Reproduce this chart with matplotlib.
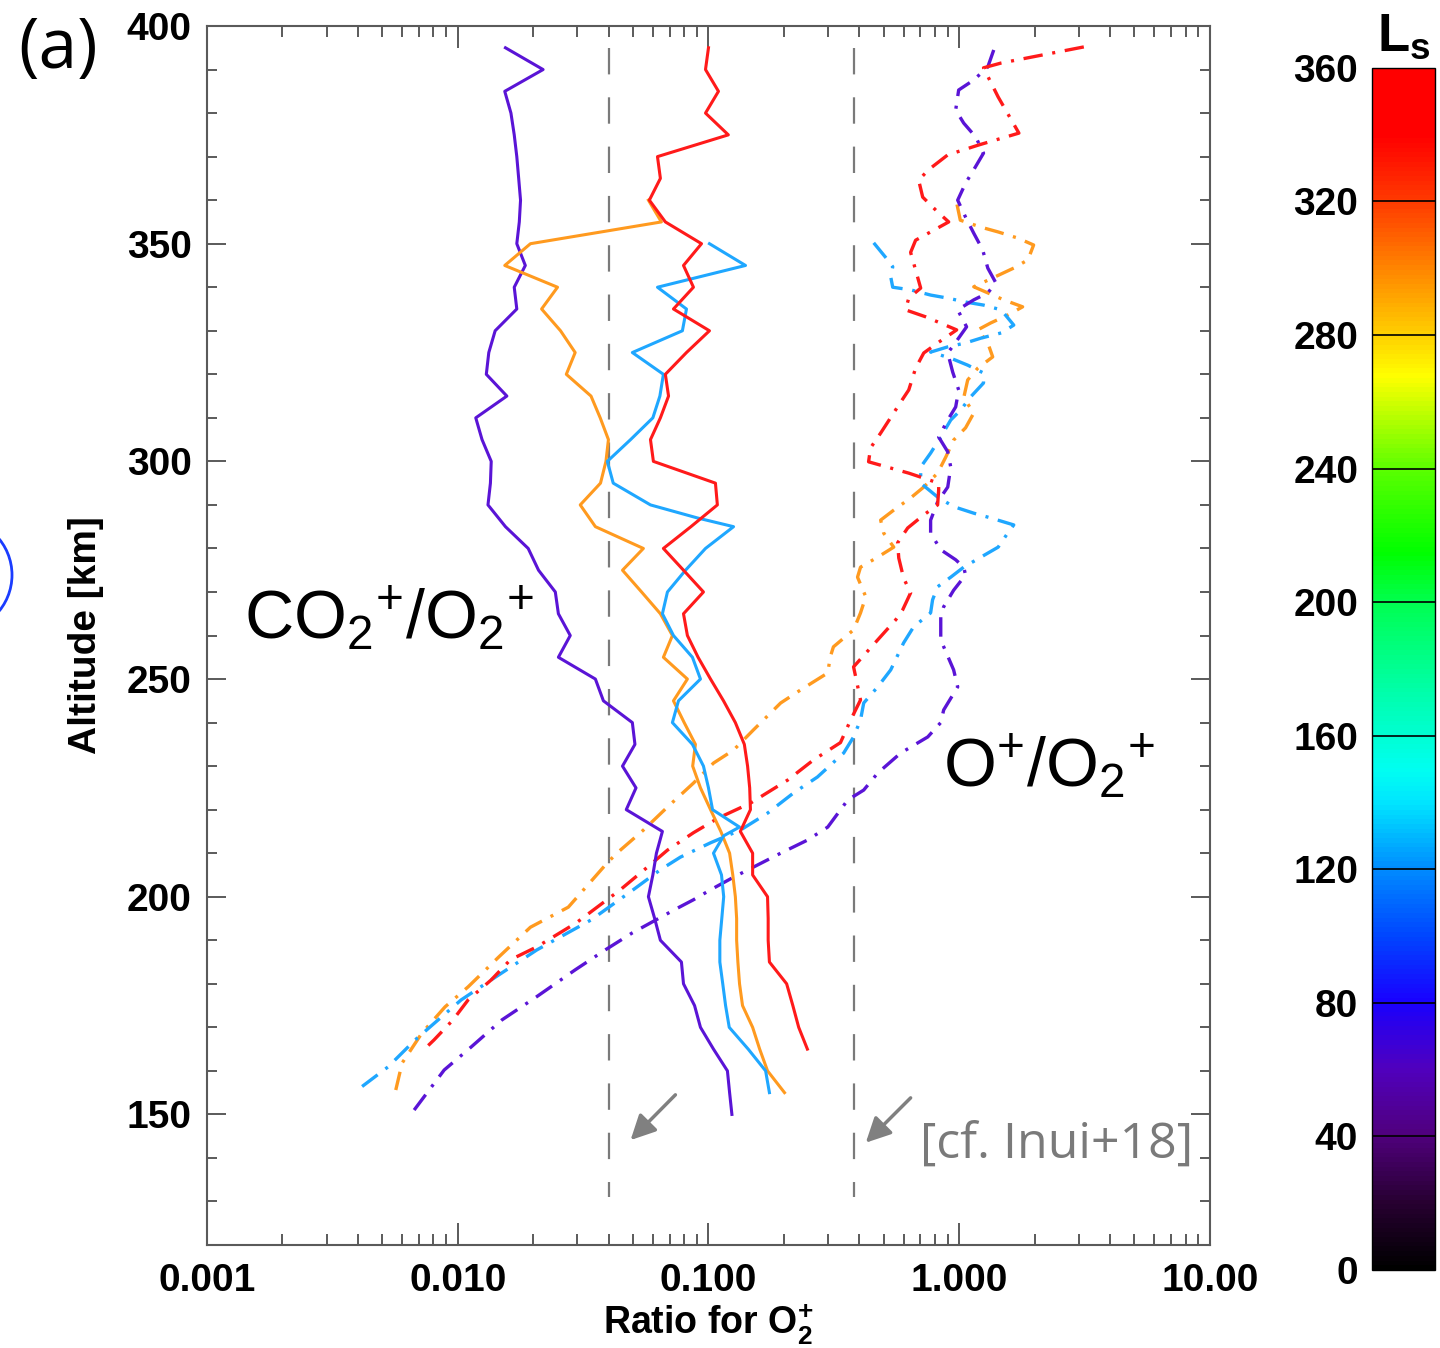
# -*- coding: utf-8 -*-

import matplotlib
matplotlib.use('Agg')
import matplotlib.pyplot as plt
import numpy as np
from matplotlib.colors import LinearSegmentedColormap, Normalize
from matplotlib.cm import ScalarMappable
from matplotlib.ticker import LogLocator, NullFormatter
from matplotlib.patches import Ellipse

plt.rcParams['font.family'] = ['Liberation Sans', 'DejaVu Sans']
plt.rcParams['mathtext.fontset'] = 'custom'
plt.rcParams['mathtext.rm'] = 'Liberation Sans'
plt.rcParams['mathtext.bf'] = 'Liberation Sans:bold'
plt.rcParams['mathtext.it'] = 'Liberation Sans:italic'
plt.rcParams['lines.scale_dashes'] = False

# ---- CO2+/O2+ profiles (solid) ----
alt_co2_purple = [395, 390, 385, 380, 375, 370, 365, 360, 355, 350, 345, 340, 335, 330, 325,
                  320, 315, 310, 305, 300, 295, 290, 285, 280, 275, 270, 265, 260, 255, 250,
                  245, 240, 235, 230, 225, 220, 215, 210, 205, 200, 195, 190, 185, 180, 175,
                  170, 165, 160, 155, 150]
co2_purple = [0.0155, 0.0219, 0.0154, 0.0163, 0.0168, 0.0172, 0.0175, 0.0178, 0.0176, 0.0172,
              0.0186, 0.0168, 0.0172, 0.0141, 0.0133, 0.0130, 0.0157, 0.0118, 0.0125, 0.0136,
              0.0135, 0.0132, 0.0155, 0.0191, 0.0210, 0.0245, 0.0252, 0.0281, 0.0252, 0.0354,
              0.0381, 0.0497, 0.0509, 0.0454, 0.0514, 0.0470, 0.0655, 0.0620, 0.0600, 0.0576,
              0.0610, 0.0643, 0.0780, 0.0795, 0.0880, 0.0929, 0.1047, 0.119, 0.1214, 0.124]

alt_co2_orange = [360, 355, 350, 345, 340, 335, 330, 325, 320, 315, 310, 305, 300, 295, 290,
                  285, 280, 275, 270, 265, 260, 255, 250, 245, 240, 235, 230, 225, 220, 215,
                  210, 205, 200, 195, 190, 185, 180, 175, 170, 165, 160, 155]
co2_orange = [0.0576, 0.0649, 0.0195, 0.0154, 0.0250, 0.0216, 0.0257, 0.0294, 0.0271, 0.0340,
              0.0370, 0.0399, 0.0390, 0.0371, 0.0308, 0.0354, 0.0550, 0.0454, 0.0541, 0.0643,
              0.0718, 0.0661, 0.0824, 0.0725, 0.0800, 0.0887, 0.0865, 0.0929, 0.1019, 0.1120,
              0.1214, 0.125, 0.128, 0.1295, 0.1295, 0.131, 0.133, 0.1367, 0.150, 0.160,
              0.172, 0.201]

alt_co2_blue = [350, 345, 340, 335, 330, 325, 320, 315, 310, 305, 300, 295, 290, 287, 285,
                280, 275, 270, 265, 260, 255, 250, 245, 240, 235, 230, 225, 220, 216, 214,
                210, 205, 200, 195, 190, 185, 180, 175, 170, 165, 160, 155]
co2_blue = [0.1009, 0.1405, 0.0626, 0.0817, 0.0787, 0.0497, 0.0661, 0.0640, 0.0600, 0.0489,
            0.0395, 0.0417, 0.0587, 0.0904, 0.1259, 0.0973, 0.0810, 0.0686, 0.0655, 0.0725,
            0.0863, 0.0929, 0.0759, 0.0718, 0.0863, 0.0955, 0.1000, 0.1038, 0.133, 0.115,
            0.1047, 0.1127, 0.115, 0.113, 0.111, 0.111, 0.114, 0.117, 0.121, 0.144,
            0.169, 0.175]

alt_co2_red = [395, 390, 385, 380, 375, 370, 365, 360, 355, 350, 345, 340, 335, 330, 325,
               320, 315, 310, 305, 300, 295, 290, 285, 280, 275, 270, 265, 260, 255, 250,
               245, 240, 235, 230, 225, 220, 215, 210, 205, 200, 195, 190, 185, 180, 175,
               170, 165]
co2_red = [0.100, 0.0973, 0.1096, 0.0973, 0.120, 0.0626, 0.0643, 0.0581, 0.0673, 0.0938,
           0.0795, 0.0871, 0.0725, 0.1009, 0.0817, 0.0673, 0.0693, 0.0643, 0.0587, 0.0603,
           0.1066, 0.1085, 0.0851, 0.0661, 0.0795, 0.0955, 0.0795, 0.0824, 0.0909, 0.1019,
           0.1148, 0.128, 0.139, 0.1432, 0.146, 0.147, 0.134, 0.150, 0.150, 0.172,
           0.173, 0.173, 0.175, 0.205, 0.217, 0.229, 0.248]

# ---- O+/O2+ profiles (dash-dot) ----
alt_o_purple = [394.5, 390.6, 387.6, 385.3, 380.7, 377.7, 374.5, 370.8, 367, 363.9, 360, 356.1,
                352.4, 348.6, 344.4, 341, 338.7, 337.1, 334.8, 330.9, 326.7, 324.9, 320.5,
                316.4, 312.5, 309.5, 305.6, 302.2, 298.7, 294.1, 290.7, 286.5, 283.5, 279.7,
                277.4, 275.7, 273.9, 270.4, 266.6, 264.3, 259, 252.1, 248.2, 242.9, 240,
                236.7, 233, 228.4, 224.5, 222.2, 216, 213, 210, 206.8, 204.5, 201.6, 199.3,
                197, 191.7, 187.8, 183.2, 177, 171.7, 165.5, 160.2, 151]
o_purple = [1.373, 1.30, 1.143, 0.995, 0.968, 1.042, 1.164, 1.25, 1.143, 1.06, 0.986, 1.06,
            1.143, 1.24, 1.30, 1.40, 1.30, 1.143, 0.986, 1.07, 0.95, 0.90, 0.942, 0.995, 0.968,
            0.90, 0.828, 0.90, 0.925, 0.90, 0.82, 0.769, 0.769, 0.844, 0.968, 1.042, 1.06,
            0.95, 0.867, 0.844, 0.844, 0.95, 0.986, 0.867, 0.844, 0.749, 0.584, 0.473, 0.416,
            0.359, 0.299, 0.248, 0.194, 0.151, 0.126, 0.102, 0.0871, 0.0731, 0.0497, 0.0388,
            0.0294, 0.0206, 0.0150, 0.01132, 0.00883, 0.0067]

alt_o_orange = [359, 355.4, 353.8, 352.7, 351.3, 349.7, 346.3, 344.4, 340.1, 338.7, 337.1, 335.5,
                333.6, 331.8, 330.2, 327.2, 324, 321.4, 318.7, 314.6, 311.1, 307.7, 304.9,
                301, 297.3, 294.1, 291.6, 288.8, 286.5, 283.5, 280.3, 278, 275.7, 273.4,
                268.9, 265.2, 261.3, 257.4, 255.1, 251.4, 247.5, 244.5, 238.3, 233.7, 230.7,
                226.1, 220.6, 215.3, 210.1, 207.8, 197.6, 193, 186.2, 179.3, 174.7, 168.7,
                161.8, 155.6]
o_orange = [0.98, 1.01, 1.22, 1.43, 1.71, 1.98, 1.88, 1.65, 1.143, 1.30, 1.505, 1.79, 1.56,
            1.336, 1.185, 1.30, 1.36, 1.185, 1.081, 1.042, 1.143, 1.06, 0.95, 0.884, 0.82,
            0.722, 0.640, 0.548, 0.486, 0.50, 0.548, 0.473, 0.404, 0.393, 0.424, 0.404, 0.379,
            0.315, 0.306, 0.299, 0.233, 0.194, 0.151, 0.126, 0.1047, 0.0871, 0.0686, 0.055,
            0.0433, 0.0395, 0.0276, 0.0195, 0.0146, 0.0110, 0.0089, 0.0072, 0.0060, 0.00566]

alt_o_blue = [350.2, 346.3, 344.7, 342.4, 340, 339.4, 338.2, 337.5, 336.6, 335.9, 334.8, 331.3,
              329.5, 328.3, 327.2, 326.3, 325.1, 323.7, 322.1, 320.3, 318, 314.8, 311.8, 309.5,
              305.6, 301.9, 298.7, 295, 291.8, 289.6, 288.1, 287, 285.4, 283.5, 280.3, 278,
              275.7, 273.4, 271.2, 268.2, 265.2, 262, 258.3, 252.1, 248.2, 244.5, 240.6,
              236.7, 233, 227.5, 223.8, 219.2, 215.3, 212.4, 209.1, 206.2, 201.6, 194.7,
              187.8, 180.9, 176.3, 171.7, 167.1, 160.9, 155.6]
o_blue = [0.456, 0.518, 0.543, 0.533, 0.543, 0.640, 0.769, 0.90, 1.06, 1.25, 1.47, 1.65, 1.47,
          1.22, 1.06, 0.90, 0.769, 0.925, 1.081, 1.25, 1.25, 1.11, 1.014, 0.925, 0.844, 0.769,
          0.702, 0.702, 0.82, 0.95, 1.143, 1.336, 1.65, 1.56, 1.43, 1.22, 1.042, 0.925, 0.82,
          0.783, 0.769, 0.658, 0.60, 0.533, 0.473, 0.416, 0.404, 0.379, 0.346, 0.272, 0.218,
          0.172, 0.134, 0.102, 0.0773, 0.0643, 0.0501, 0.0341, 0.0207, 0.0136, 0.01032,
          0.00835, 0.00676, 0.00527, 0.00398]

alt_o_red = [395.2, 391.5, 390.4, 383.7, 375.4, 372.7, 370.4, 367, 364.6, 360.7, 357.3, 355,
             350.8, 348, 339.8, 337.5, 334.8, 333.2, 330.2, 327.2, 324.9, 321.4, 316.4, 313.6,
             306.5, 303.1, 299.9, 297.3, 295, 293.4, 290, 287.7, 284.7, 281.3, 277.8, 273.2,
             269.8, 265.9, 263.6, 259, 252.8, 245.2, 240.6, 235.4, 231.4, 226.8, 221.5,
             218.1, 214.7, 210.7, 206.8, 201.6, 194, 188.5, 185.5, 180.9, 176.3, 171.7,
             167.1, 165.3]
o_red = [3.14, 1.47, 1.25, 1.43, 1.73, 1.20, 0.90, 0.755, 0.689, 0.715, 0.82, 0.908, 0.670,
         0.640, 0.702, 0.629, 0.611, 0.735, 0.977, 0.82, 0.722, 0.670, 0.629, 0.584, 0.486,
         0.443, 0.435, 0.629, 0.828, 0.828, 0.82, 0.722, 0.623, 0.568, 0.574, 0.60, 0.640,
         0.595, 0.558, 0.473, 0.379, 0.404, 0.369, 0.336, 0.262, 0.207, 0.147, 0.1096,
         0.0871, 0.0686, 0.0571, 0.0445, 0.0297, 0.0207, 0.0162, 0.0136, 0.0110, 0.00957,
         0.00804, 0.00746]

ref_ratios = [0.04, 0.38]
xtick_vals = [0.001, 0.01, 0.1, 1, 10]
xtick_labels = ['0.001', '0.010', '0.100', '1.000', '10.00']
ytick_vals = [150, 200, 250, 300, 350, 400]
cbar_ticks = [0, 40, 80, 120, 160, 200, 240, 280, 320, 360]

# colour table (Ls -> colour)
ls_stops = [0, 20, 40, 60, 80, 100, 120, 140, 150, 170, 200, 215, 240, 268, 285, 320, 340, 360]
ls_colors = ['#000000', '#280032', '#50007d', '#5000be', '#1900ff', '#0046ff', '#008cff',
             '#00e6ff', '#00fff0', '#00ffb4', '#00ff50', '#00ff00', '#5aff00', '#ffff00',
             '#ffbe00', '#ff3c00', '#ff0000', '#ff0000']

purple = '#5a14d6'
orange = '#ff9a1f'
blue = '#1fa7ff'
red = '#ff1a1a'

fig = plt.figure(figsize=(14.4, 13.48), dpi=100)
ax = fig.add_axes([0.14375, 0.0764, 0.6965, 0.9043])

for x in ref_ratios:
    ax.plot([x, x], [395, 131], color='#7a7a7a', lw=1.6, linestyle=(0, (19, 16.5)))

dashdot = (0, (14, 7, 2.2, 7))
ax.plot(o_orange, alt_o_orange, color=orange, lw=2.4, linestyle=dashdot)
ax.plot(o_blue, alt_o_blue, color=blue, lw=2.4, linestyle=dashdot)
ax.plot(o_purple, alt_o_purple, color=purple, lw=2.4, linestyle=dashdot)
ax.plot(o_red, alt_o_red, color=red, lw=2.4, linestyle=dashdot)

ax.plot(co2_purple, alt_co2_purple, color=purple, lw=2.2)
ax.plot(co2_orange, alt_co2_orange, color=orange, lw=2.2)
ax.plot(co2_blue, alt_co2_blue, color=blue, lw=2.2)
ax.plot(co2_red, alt_co2_red, color=red, lw=2.2)

ax.set_xscale('log')
ax.set_xlim(0.001, 10)
ax.set_ylim(120, 400)

ax.set_xticks(xtick_vals)
ax.set_xticklabels(xtick_labels, fontsize=28, fontweight='bold')
ax.xaxis.set_minor_locator(LogLocator(base=10, subs=np.arange(2, 10)))
ax.xaxis.set_minor_formatter(NullFormatter())
ax.set_yticks(ytick_vals)
ax.set_yticklabels([str(v) for v in ytick_vals], fontsize=28, fontweight='bold')
ax.set_yticks(np.arange(120, 401, 10), minor=True)

ax.tick_params(axis='both', which='both', direction='in', top=True, right=True,
               color='#5a5a5a', labelcolor='black')
ax.tick_params(axis='x', which='major', length=16, width=1.4, pad=13)
ax.tick_params(axis='x', which='minor', length=8, width=1.4)
ax.tick_params(axis='y', which='major', length=14, width=1.4, pad=11)
ax.tick_params(axis='y', which='minor', length=7, width=1.4)
for s in ax.spines.values():
    s.set_color('#5a5a5a')
    s.set_linewidth(1.5)

ax.set_xlabel(r'Ratio for O$_\mathbf{2}^\mathbf{+}$', fontsize=27, fontweight='bold', labelpad=2)
ax.set_ylabel('Altitude [km]', fontsize=28, fontweight='bold', labelpad=16)

ax.text(0.00141, 264, r'CO$_\mathregular{2}$$^\mathregular{+}$/O$_\mathregular{2}$$^\mathregular{+}$',
        fontsize=49, va='center')
ax.text(0.86, 230, r'O$^\mathregular{+}$/O$_\mathregular{2}$$^\mathregular{+}$',
        fontsize=49, va='center')
ax.text(0.70, 143, '[cf. Inui+18]', fontsize=36, color='#7a7a7a', family='Open Sans',
        va='center')

arrow = dict(arrowstyle='-|>,head_length=0.6,head_width=0.3', color='#808080', lw=2.5,
             mutation_scale=25, shrinkA=0, shrinkB=0)
ax.annotate('', xy=(0.0489, 144.1), xytext=(0.0738, 154.5), arrowprops=arrow)
ax.annotate('', xy=(0.424, 143.5), xytext=(0.640, 153.8), arrowprops=arrow)

fig.text(0.013, 1 - 50 / 1348, '(a)', fontsize=50, family='Open Sans', va='center')

# blue circle mark at the left edge
fig.add_artist(Ellipse((-45 / 1440, 1 - 575 / 1348), 114 / 1440, 114 / 1348,
                       transform=fig.transFigure, fill=False, ec='#1a3cff', lw=2, clip_on=False))

# colour bar
cmap = LinearSegmentedColormap.from_list('ls', [(v / 360, c) for v, c in zip(ls_stops, ls_colors)])
cax = fig.add_axes([0.9528, 0.0579, 0.04375, 0.8917])
cb = fig.colorbar(ScalarMappable(norm=Normalize(0, 360), cmap=cmap), cax=cax, ticks=cbar_ticks)
cax.yaxis.set_ticks_position('left')
cax.tick_params(length=0, pad=10, labelsize=28)
for lab in cax.get_yticklabels():
    lab.set_fontweight('bold')
for t in cbar_ticks[1:-1]:
    cax.axhline(t, color='black', lw=1.2)
cb.outline.set_linewidth(1)
cax.text(0.5, 1.005, r'$\mathbf{L}_\mathbf{s}$', transform=cax.transAxes, ha='center',
         va='bottom', fontsize=38)

plt.savefig('out.png', dpi=100)
